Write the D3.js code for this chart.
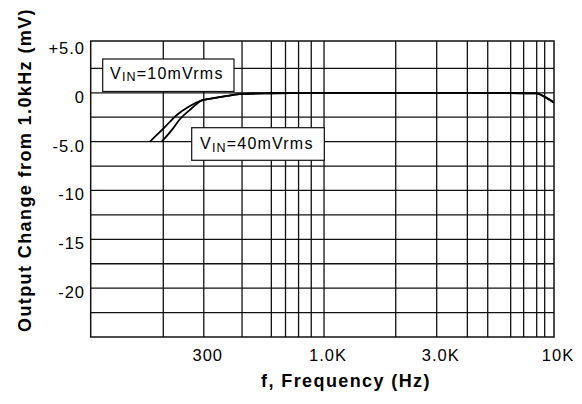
<!DOCTYPE html>
<html>
<head>
<meta charset="utf-8">
<script src="https://cdn.jsdelivr.net/npm/d3@7"></script>
<style>
  body { margin: 0; background: #fff; }
  svg { display: block; font-family: "Liberation Sans", Arial, Helvetica, sans-serif; }
</style>
</head>
<body>
<div id="chart"></div>
<script>
// frequency (Hz) / output change (mV)
const freq10 = [175, 204, 229, 261, 294, 342, 446, 582, 1000, 3000, 7480, 8410, 8985, 10000];
const out10 = [-5.0, -3.47, -2.27, -1.35, -0.77, -0.5, -0.12, -0.05, 0, 0, -0.05, -0.07, -0.34, -1.01];
const freq40 = [197, 218, 236, 266, 294, 342, 446, 582, 1000, 3000, 7480, 8410, 8985, 10000];
const out40 = [-5.0, -3.8, -2.71, -1.59, -0.77, -0.5, -0.12, -0.05, 0, 0, -0.05, -0.07, -0.34, -1.01];

// grid as drawn in the datasheet
const xGrid = [200, 300, 440, 590, 680, 775, 880, 1000, 2050, 3090, 4200, 5150, 6480, 7380, 8410, 9110];
const xTickVals = [300, 1000, 3090, 10000];
const xTickText = ["300", "1.0K", "3.0K", "10K"];
const yGrid = [2.5, 0, -2.5, -5, -7.5, -10, -12.5, -15, -17.5, -20, -22.5];
const yTickVals = [5, 0, -5, -10, -15, -20];
const yTickText = ["+5.0", "0", "-5.0", "-10", "-15", "-20"];

const W = 582, H = 404;
const svg = d3.select("#chart").append("svg").attr("width", W).attr("height", H);

const x = d3.scaleLog().domain([96.7, 10000]).range([90.7, 554]);
const y = d3.scaleLinear().domain([5.3, -25]).range([41, 337]);
const [x0, x1] = x.range();
const [y0, y1] = y.range();

// grid
svg.append("g").selectAll("line").data(yGrid).join("line")
  .attr("x1", x0).attr("x2", x1)
  .attr("y1", d => y(d)).attr("y2", d => y(d))
  .attr("stroke", "#111").attr("stroke-width", 1.3);

svg.append("g").selectAll("line").data(xGrid).join("line")
  .attr("x1", d => x(d)).attr("x2", d => x(d))
  .attr("y1", y0).attr("y2", y1)
  .attr("stroke", "#111").attr("stroke-width", 1.3);

// tick labels
svg.append("g").selectAll("text").data(yTickVals).join("text")
  .attr("x", 85).attr("y", d => y(d) + 10)
  .attr("text-anchor", "end")
  .attr("font-size", 16.5).attr("letter-spacing", 1)
  .text((d, i) => yTickText[i]);

svg.append("g").selectAll("text").data(xTickVals).join("text")
  .attr("x", d => x(d) + 4).attr("y", 361)
  .attr("text-anchor", "middle")
  .attr("font-size", 16.5).attr("letter-spacing", 1)
  .text((d, i) => xTickText[i]);

// curves
const line = d3.line()
  .x(d => x(d[0])).y(d => y(d[1]))
  .curve(d3.curveMonotoneX);

[[freq10, out10], [freq40, out40]].forEach(([f, v]) => {
  svg.append("path")
    .datum(f.map((d, i) => [d, v[i]]))
    .attr("d", line)
    .attr("fill", "none")
    .attr("stroke", "#000")
    .attr("stroke-width", 1.8);
});

// frame
svg.append("rect")
  .attr("x", x0).attr("y", y0)
  .attr("width", x1 - x0).attr("height", y1 - y0)
  .attr("fill", "none").attr("stroke", "#111").attr("stroke-width", 1.5);

// labels in boxes
const boxes = [
  { label: "=10mVrms", bx: 102.7, by: 59, bw: 131.3, bh: 32.5, tx: 110, ty: 78.5 },
  { label: "=40mVrms", bx: 191.7, by: 127.7, bw: 132.6, bh: 32.6, tx: 200, ty: 149 }
];
boxes.forEach(b => {
  svg.append("rect")
    .attr("x", b.bx).attr("y", b.by).attr("width", b.bw).attr("height", b.bh)
    .attr("fill", "#fff").attr("stroke", "#111").attr("stroke-width", 1.2);
  const t = svg.append("text")
    .attr("x", b.tx).attr("y", b.ty)
    .attr("font-size", 16).attr("letter-spacing", 1.2);
  t.append("tspan").text("V");
  t.append("tspan").attr("font-size", 12.5).attr("dy", 2.5).text("IN");
  t.append("tspan").attr("dy", -2.5).text(b.label);
});

// axis titles
svg.append("text")
  .attr("x", 346).attr("y", 387)
  .attr("text-anchor", "middle")
  .attr("font-size", 18).attr("font-weight", "bold").attr("letter-spacing", 1.4)
  .text("f, Frequency (Hz)");

svg.append("text")
  .attr("transform", "translate(31,170) rotate(-90)")
  .attr("text-anchor", "middle")
  .attr("font-size", 18).attr("font-weight", "bold").attr("letter-spacing", 1.4)
  .text("Output Change from 1.0kHz (mV)");
</script>
</body>
</html>
